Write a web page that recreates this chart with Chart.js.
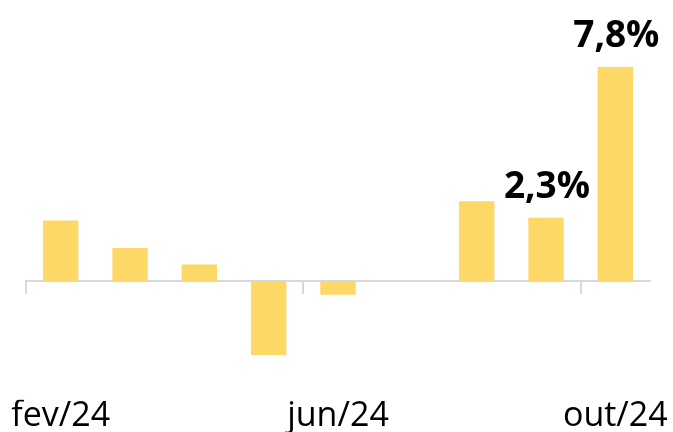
<!DOCTYPE html>
<html>
<head>
<meta charset="utf-8">
<script src="https://cdn.jsdelivr.net/npm/chart.js@4.4.1/dist/chart.umd.min.js"></script>
<style>
  html, body { margin: 0; padding: 0; background: #fff; }
  #wrap { width: 673px; height: 432px; }
</style>
</head>
<body>
<div id="wrap"><canvas id="chart"></canvas></div>
<script>
// monthly change, %
const months = ['fev/24', 'mar/24', 'abr/24', 'mai/24', 'jun/24', 'jul/24', 'ago/24', 'set/24', 'out/24'];
const values = [2.2, 1.2, 0.6, -2.7, -0.5, 0, 2.9, 2.3, 7.8];
const shownTicks = ['fev/24', 'jun/24', 'out/24'];
const labelledMonths = ['set/24', 'out/24'];

const fmt = v => v.toFixed(1).replace('.', ',') + '%';

// bold value text above the chosen bars
const valueLabels = {
    id: 'valueLabels',
    afterDatasetsDraw(chart) {
        const ctx = chart.ctx;
        const meta = chart.getDatasetMeta(0);
        ctx.save();
        ctx.font = 'bold 37px "Open Sans"';
        ctx.fillStyle = '#000';
        ctx.textAlign = 'center';
        ctx.textBaseline = 'alphabetic';
        meta.data.forEach((bar, i) => {
            if (!labelledMonths.includes(months[i])) return;
            ctx.fillText(fmt(values[i]), bar.x + 1, bar.y - 20);
        });
        ctx.restore();
    }
};

new Chart(document.getElementById('chart'), {
    type: 'bar',
    data: {
        labels: months,
        datasets: [{
            data: values,
            backgroundColor: '#fdd866',
            categoryPercentage: 1,
            barPercentage: 0.51,
            clip: false
        }]
    },
    options: {
        responsive: true,
        maintainAspectRatio: false,
        animation: false,
        layout: { padding: { left: 26, right: 23, top: 0, bottom: 0 } },
        plugins: {
            legend: { display: false },
            tooltip: { enabled: false }
        },
        scales: {
            x: {
                position: 'bottom',
                offset: true,
                grid: { display: false, drawTicks: false },
                border: { display: false },
                ticks: {
                    autoSkip: false,
                    maxRotation: 0,
                    padding: 0,
                    color: '#000',
                    font: { family: 'Open Sans', size: 34, lineHeight: 0.95 },
                    callback: (v, i) => shownTicks.includes(months[i]) ? months[i] : ''
                }
            },
            // zero line with the little tick marks hanging from it
            x2: {
                axis: 'x',
                type: 'category',
                position: { y: 0 },
                offset: true,
                grid: {
                    offset: true,
                    drawOnChartArea: false,
                    tickLength: 12,
                    lineWidth: 2,
                    color: c => shownTicks.includes(months[c.index]) ? '#d9d9d9' : 'transparent'
                },
                border: { color: '#d9d9d9', width: 2 },
                ticks: { display: false },
                afterFit: s => { s.height = 0; }
            },
            y: { display: false, min: -4.33, max: 10.24 }
        }
    },
    plugins: [valueLabels]
});
</script>
</body>
</html>
